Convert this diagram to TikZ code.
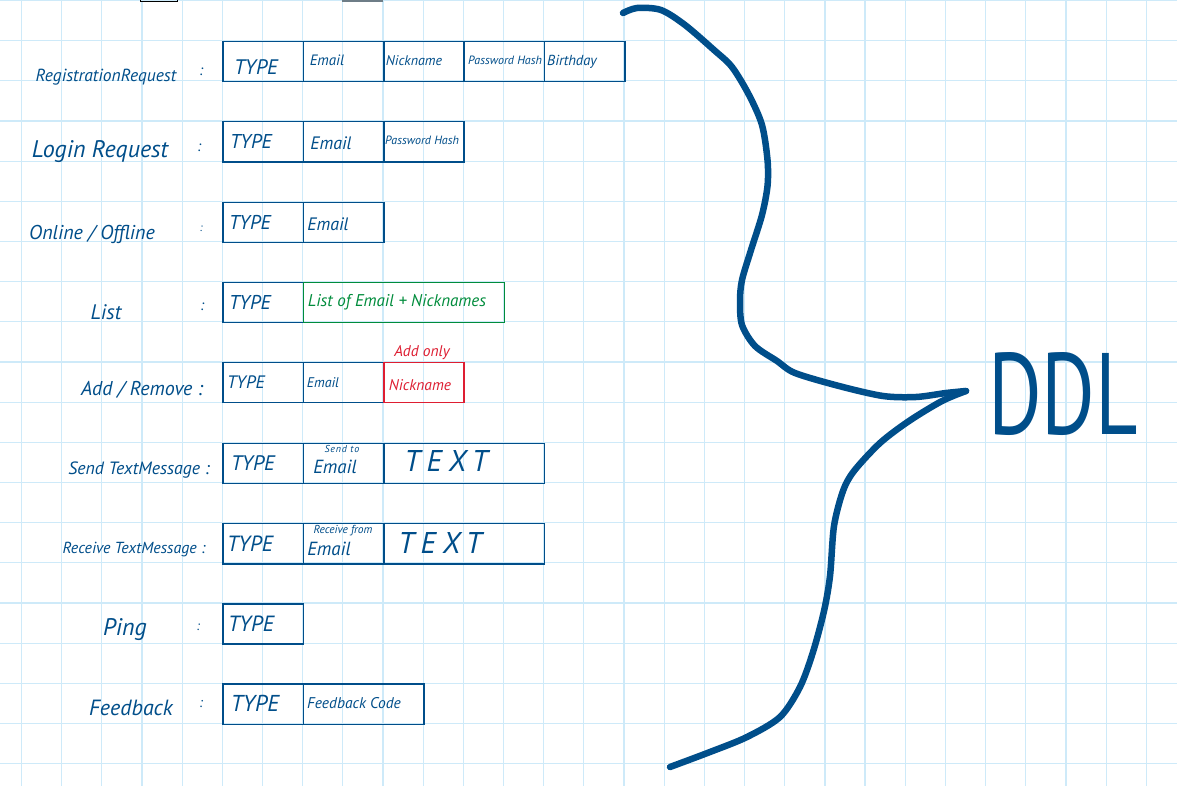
\documentclass[tikz,border=0pt]{standalone}
\usepackage{fontspec}
\usepackage{graphicx}
\setmainfont{PT Sans}
\definecolor{ink}{RGB}{0,78,138}
\definecolor{gridc}{RGB}{206,234,249}
\definecolor{greenink}{RGB}{0,140,60}
\definecolor{redink}{RGB}{222,30,50}
\definecolor{topgray}{RGB}{110,125,135}
\newcommand{\fsz}[1]{\fontsize{#1}{#1}\selectfont}
\begin{document}
\begin{tikzpicture}[x=1pt,y=-1pt,
  cell/.style={draw=ink, line width=1.5pt, minimum width=80.34pt, minimum height=40.17pt, anchor=north west, inner sep=0pt},
  hw/.style={text=ink, inner sep=0pt, font=\itshape\fsz{#1}},
  hwg/.style={text=greenink, inner sep=0pt, font=\itshape\fsz{#1}},
  hwr/.style={text=redink, inner sep=0pt, font=\itshape\fsz{#1}},
  big/.style={text=ink, inner sep=0pt, font=\itshape\fsz{30}\addfontfeature{LetterSpace=22}},
  brace/.style={draw=ink, line width=6.5pt, line cap=round, line join=round}]
\useasboundingbox (0,0) rectangle (1177,786);
\fill[white] (0,0) rectangle (1177,786);
% grid
\foreach \k in {0,...,29} \draw[gridc, line width=1.2pt] ({21.5+40.17*\k},0) -- ({21.5+40.17*\k},786);
\foreach \k in {0,...,19} \draw[gridc, line width=1.2pt] (0,{0.5+40.17*\k}) -- (1177,{0.5+40.17*\k});
% top marks
\draw[black, line width=1pt] (140.5,-3) rectangle (177,1.5);
\draw[topgray, line width=1.5pt] (342.5,-3) rectangle (382,1.2);

% ---- row 1: Registration Request
\node[hw=17.5] (l1) at (106,77) {RegistrationRequest};
\node[hw=15] (k1) at (201,72) {:};
\node[cell] (r1a) at (222.35,40.7) {};
\node[cell] (r1b) at (302.7,40.7) {};
\node[cell] (r1c) at (383.0,40.7) {};
\node[cell] (r1d) at (463.4,40.7) {};
\node[cell] (r1e) at (543.7,40.7) {};
\node[hw=21] (t1a) at (256,67) {TYPE};
\node[hw=15] (t1b) at (327,60) {Email};
\node[hw=14] (t1c) at (414,61) {Nickname};
\node[hw=12] (t1d) at (505,60) {Password Hash};
\node[hw=14.5] (t1e) at (572,62) {Birthday};

% ---- row 2: Login Request
\node[hw=24] (l2) at (100,152) {Login Request};
\node[hw=15] (k2) at (199,148) {:};
\node[cell] (r2a) at (222.35,121) {};
\node[cell] (r2b) at (302.7,121) {};
\node[cell] (r2c) at (383.0,121) {};
\node[hw=20] (t2a) at (251,141) {TYPE};
\node[hw=18] (t2b) at (331,143) {Email};
\node[hw=12] (t2c) at (422,140) {Password Hash};

% ---- row 3: Online / Offline
\node[hw=20] (l3) at (92,234) {Online / Offline};
\node[hw=11] (k3) at (201,229) {:};
\node[cell] (r3a) at (222.35,201.7) {};
\node[cell] (r3b) at (302.7,201.7) {};
\node[hw=20] (t3a) at (250,222) {TYPE};
\node[hw=18] (t3b) at (328,224) {Email};

% ---- row 4: List
\node[hw=21] (l4) at (106,312) {List};
\node[hw=15] (k4) at (202,307) {:};
\node[cell] (r4a) at (222.35,281.7) {};
\node[cell, draw=greenink, minimum width=200.85pt] (r4b) at (302.7,281.7) {};
\node[hw=20] (t4a) at (250,302) {TYPE};
\node[hwg=17] (t4b) at (397,302) {List of Email + Nicknames};

% ---- row 5: Add / Remove
\node[hw=20] (l5) at (142,390) {Add / Remove :};
\node[cell] (r5a) at (222.35,361.7) {};
\node[cell] (r5b) at (302.7,361.7) {};
\node[cell, draw=redink] (r5c) at (383.0,361.7) {};
\node[hw=18] (t5a) at (246,382) {TYPE};
\node[hw=14] (t5b) at (323,383) {Email};
\node[hwr=15.5] (t5c) at (420,385) {Nickname};
\node[hwr=15.5] (n5) at (422,353) {Add only};

% ---- row 6: Send Text Message
\node[hw=17.8] (l6) at (139,470) {Send TextMessage :};
\node[cell] (r6a) at (222.35,442.7) {};
\node[cell] (r6b) at (302.7,442.7) {};
\node[cell, minimum width=160.68pt] (r6c) at (383.0,442.7) {};
\node[hw=21] (t6a) at (253,463) {TYPE};
\node[hw=10, font=\itshape\fsz{10}\addfontfeature{LetterSpace=8}] (s6) at (342,449) {Send to};
\node[hw=19] (t6b) at (335,467) {Email};
\node[big] (t6c) at (446,461) {TEXT};

% ---- row 7: Receive Text Message
\node[hw=16] (l7) at (134,550) {Receive TextMessage :};
\node[cell] (r7a) at (222.35,522.9) {};
\node[cell] (r7b) at (302.7,522.9) {};
\node[cell, minimum width=160.68pt] (r7c) at (383.0,522.9) {};
\node[hw=22] (t7a) at (250,544) {TYPE};
\node[hw=11.5] (s7) at (343,531) {Receive from};
\node[hw=19] (t7b) at (329,549) {Email};
\node[big] (t7c) at (440,543) {TEXT};

% ---- row 8: Ping
\node[hw=24] (l8) at (125,630) {Ping};
\node[hw=13] (k8) at (198,627) {:};
\node[cell] (r8a) at (222.35,603.3) {};
\node[hw=22] (t8a) at (251,624) {TYPE};

% ---- row 9: Feedback
\node[hw=22] (l9) at (131,708) {Feedback};
\node[hw=14] (k9) at (201,704) {:};
\node[cell] (r9a) at (222.35,683.4) {};
\node[cell, minimum width=120.51pt] (r9b) at (302.7,683.4) {};
\node[hw=23] (t9a) at (255,703) {TYPE};
\node[hw=15.5] (t9b) at (354,703) {Feedback Code};

% ---- brace and DDL
\coordinate (tip) at (966,391);
\node[text=ink, inner sep=0pt, font=\fsz{100}] (ddl) at (1063,394) {\resizebox{150pt}{82pt}{DDL}};
\draw[brace] plot[smooth] coordinates {(623,13) (637,8) (661,10) (685,25) (714,50) (732,67) (749,95) (762,125) (767.5,160) (767.5,186) (762,215) (751,250) (742,280) (740,301) (742,325) (755,346) (777,361) (795,373) (839,386) (883,396) (916,397) (946,393) (tip)};
\draw[brace] plot[smooth] coordinates {(tip) (942,401) (909,421) (880,443) (854,471) (843,491) (834,526) (830,576) (824,611) (813,652) (800,687) (780,717) (747,737) (710,752) (670,767)};
\end{tikzpicture}
\end{document}
